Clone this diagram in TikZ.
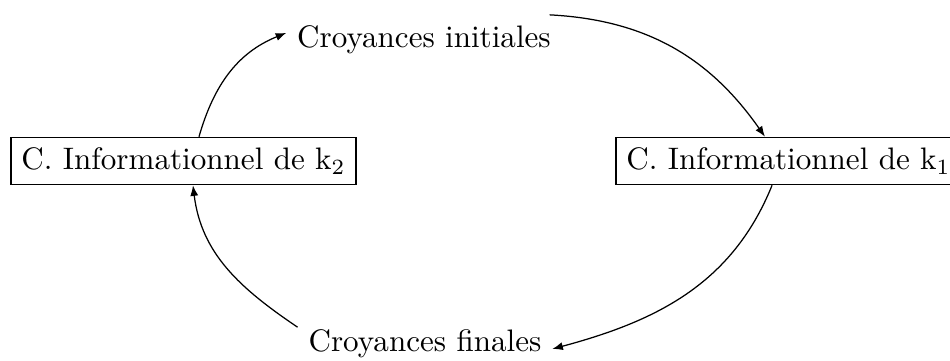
\documentclass[tikz,border=0pt]{standalone}
\usetikzlibrary{arrows.meta, calc}

\begin{document}
\begin{tikzpicture}[every node/.style={font=\normalsize},
      cbox/.style={draw, align=center},
      belief/.style={align=center},
      flow/.style={-{Latex[length=3.4pt, width=2.6pt]}}]
    \useasboundingbox (0,0) rectangle (10.737,-4.069);
    \node[cbox]   (k2)    at (2.074,-1.820) {C. Informationnel de k$_2$};
    \node[cbox]   (k1)    at (8.912,-1.820) {C. Informationnel de k$_1$};
    \node[belief] (init)  at (4.792,-0.452) {Croyances initiales};
    \node[belief] (final) at (4.803,-3.888) {Croyances finales};
    \draw[flow] ([xshift=0.175cm]k2.north)       to[out=74, in=202]  ([yshift=0.08cm]init.west);
    \draw[flow] ([xshift=-0.136cm]init.north east) to[out=-3, in=125] ([xshift=-0.266cm]k1.north);
    \draw[flow] ([xshift=-0.186cm]k1.south)      to[out=248, in=15]  ([yshift=-0.056cm]final.east);
    \draw[flow] ([yshift=0.19cm]final.west)      to[out=146, in=277] ([xshift=0.107cm]k2.south);
  \end{tikzpicture}
\end{document}
